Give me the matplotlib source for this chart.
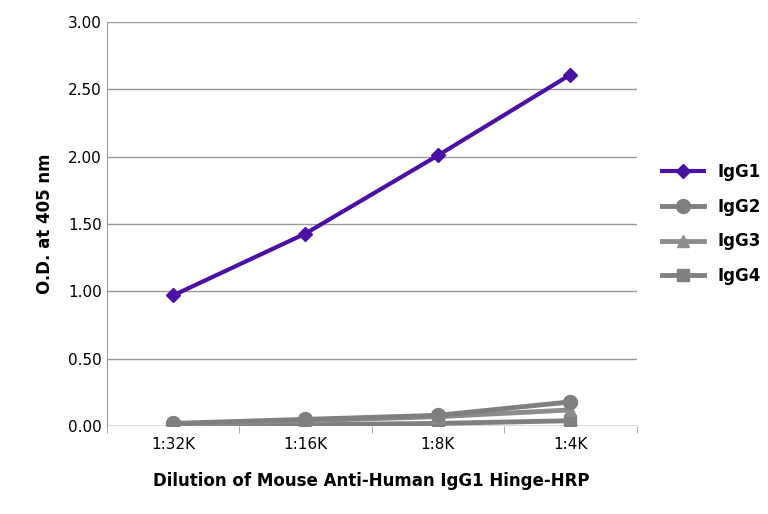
import matplotlib
matplotlib.use("Agg")
import matplotlib.pyplot as plt

dilutions = ["1:32K", "1:16K", "1:8K", "1:4K"]
igg1 = [0.97, 1.43, 2.01, 2.61]
igg2 = [0.02, 0.05, 0.08, 0.18]
igg3 = [0.01, 0.04, 0.07, 0.12]
igg4 = [0.00, 0.01, 0.02, 0.04]

fig = plt.figure(figsize=(7.68, 5.14), dpi=100)
ax = fig.add_axes([0.139, 0.171, 0.69, 0.786])
x = range(len(dilutions))

ax.plot(x, igg4, color="#808080", lw=3.5, marker="s", ms=9, label="IgG4", zorder=3)
ax.plot(x, igg3, color="#8c8c8c", lw=3.5, marker="^", ms=9, label="IgG3", zorder=3)
ax.plot(x, igg2, color="#7f7f7f", lw=3.5, marker="o", ms=10, label="IgG2", zorder=3)
ax.plot(x, igg1, color="#4b0fa6", lw=3, marker="D", ms=7, label="IgG1", zorder=4)

ax.set_xlim(-0.5, 3.5)
ax.set_ylim(0, 3.0)
ax.set_yticks([0, 0.5, 1.0, 1.5, 2.0, 2.5, 3.0])
ax.set_yticklabels([f"{v:.2f}" for v in ax.get_yticks()], fontsize=11)
ax.set_xticks(list(x))
ax.set_xticklabels(dilutions, fontsize=11)
ax.set_xticks([-0.5, 0.5, 1.5, 2.5, 3.5], minor=True)
ax.tick_params(axis="x", which="major", length=0, pad=8)
ax.tick_params(axis="x", which="minor", length=5, color="#999999")
ax.tick_params(axis="y", length=0)
ax.grid(axis="y", color="#999999", lw=1)
ax.set_axisbelow(True)
for s in ["top", "right", "bottom"]:
    ax.spines[s].set_visible(False)
ax.spines["left"].set_color("#999999")
ax.axhline(0, color="#999999", lw=1, zorder=1)

ax.set_xlabel("Dilution of Mouse Anti-Human IgG1 Hinge-HRP", fontsize=12, fontweight="bold", labelpad=14)
ax.set_ylabel("O.D. at 405 nm", fontsize=12, fontweight="bold", labelpad=10)

h, l = ax.get_legend_handles_labels()
ax.legend(h[::-1], l[::-1], loc="center left", bbox_to_anchor=(1.02, 0.5), frameon=False,
          prop={"weight": "bold", "size": 12}, handlelength=2.5, labelspacing=1.0)

fig.savefig("out.png", dpi=100)
